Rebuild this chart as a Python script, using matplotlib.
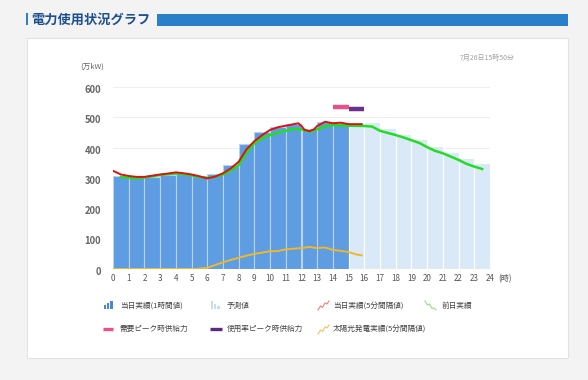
import matplotlib
matplotlib.use("Agg")
from matplotlib import pyplot as plt
from matplotlib.patches import Rectangle

plt.rcParams['font.family'] = ['Noto Sans CJK JP', 'DejaVu Sans']

# 1時間値 (当日実績 0-14時, 予測 15-23時)
hours_act = list(range(0, 15))
bars_act = [308, 303, 305, 310, 312, 307, 312, 343, 411, 453, 470, 478, 462, 486, 481]
hours_fc = list(range(15, 24))
bars_fc = [486, 486, 465, 447, 428, 407, 387, 367, 349]

# 当日実績 (5分間隔値)
red_t = [0, 0.5, 1, 1.5, 2, 2.5, 3, 3.5, 4, 4.5, 5, 5.5, 6, 6.5, 7, 7.5, 8, 8.5, 9,
         9.5, 10, 10.5, 11, 11.5, 11.8, 12, 12.2, 12.5, 12.8, 13, 13.5, 14, 14.5,
         15, 15.5, 15.83]
red_v = [324, 312, 307, 304, 304, 308, 312, 315, 319, 316, 312, 306, 299, 305, 316,
         332, 354, 395, 422, 442, 459, 468, 473, 478, 481, 472, 459, 455, 461, 472,
         486, 481, 483, 478, 478, 478]

# 前日実績
green_t = [0.5, 1, 1.5, 2, 2.5, 3, 3.5, 4, 4.5, 5, 5.5, 6, 6.5, 7, 7.5, 8, 8.5, 9,
           9.5, 10, 10.5, 11, 11.5, 12, 12.5, 13, 13.5, 14, 15, 16, 16.5, 17, 17.5,
           18, 18.5, 19, 19.5, 20, 20.5, 21, 21.5, 22, 22.5, 23, 23.5]
green_v = [304, 301, 299, 302, 306, 310, 313, 315, 313, 309, 304, 300, 305, 312, 325,
           343, 384, 415, 431, 442, 450, 456, 462, 461, 453, 461, 470, 475, 473, 472,
           470, 456, 449, 442, 434, 425, 416, 402, 390, 382, 371, 360, 347, 338, 330]

# 太陽光発電実績 (5分間隔値)
sun_t = [0, 5.3, 6, 6.5, 7, 7.5, 8, 8.5, 9, 9.5, 10, 10.5, 11, 11.5, 12, 12.5, 13,
         13.5, 14, 14.5, 15, 15.5, 15.83]
sun_v = [0, 0, 4, 13, 22, 30, 37, 44, 50, 54, 59, 59, 65, 67, 69, 73, 69, 71, 63,
         60, 56, 48, 45]

# ピーク時供給力
peak_demand = (14, 15, 535)
peak_rate = (15, 16, 527)

yticks = [0, 100, 200, 300, 400, 500, 600]
xticks = list(range(0, 25))

fig = plt.figure(figsize=(5.88, 3.8), dpi=100, facecolor='#f3f3f3')

# 背景・枠 (ピクセル座標)
bg = fig.add_axes([0, 0, 1, 1], zorder=-1)
bg.set_xlim(0, 588)
bg.set_ylim(380, 0)
bg.axis('off')
bg.add_patch(Rectangle((27, 38), 541, 320, facecolor='white', edgecolor='#e2e2e2', lw=0.8))
bg.add_patch(Rectangle((26, 13), 2, 12, facecolor='#2a7fc9', edgecolor='none'))
bg.add_patch(Rectangle((157, 14), 411, 11.5, facecolor='#2a7fc9', edgecolor='none'))
bg.text(31, 19.5, '電力使用状況グラフ', fontsize=9.5, fontweight='bold', color='#1d4f91',
        va='center', ha='left')
bg.text(515, 57.5, '7月26日15時50分', fontsize=5, color='#a0a0a0', va='center', ha='right')
bg.text(80, 67, '(万kW)', fontsize=5.5, color='#666666', va='center', ha='left')

# 凡例
lc = '#444444'
fs = 5.5
for i, h in enumerate([4, 6, 8]):
    bg.add_patch(Rectangle((103.5 + i * 3.3, 309 - h), 2.6, h, facecolor='#4a86d8', edgecolor='none'))
bg.text(120, 305.5, '当日実績(1時間値)', fontsize=fs, color=lc, va='center')
for i, h in enumerate([8, 5, 3]):
    bg.add_patch(Rectangle((210.5 + i * 3.3, 309 - h), 2.6, h, facecolor='#c8ddf3', edgecolor='none'))
bg.text(227, 305.5, '予測値', fontsize=fs, color=lc, va='center')
bg.plot([318, 320.5, 322.5, 325, 327, 329], [310, 306, 307.5, 303, 304, 301], color='#f08080', lw=0.8)
bg.text(333, 305.5, '当日実績(5分間隔値)', fontsize=fs, color=lc, va='center')
bg.plot([425, 427.5, 429.5, 432, 434, 436], [301, 305, 304, 308.5, 308, 310], color='#9ad88a', lw=0.8)
bg.text(442, 305.5, '前日実績', fontsize=fs, color=lc, va='center')
bg.plot([103, 113], [329, 329], color='#e8508a', lw=2.4, solid_capstyle='butt')
bg.text(119, 329, '需要ピーク時供給力', fontsize=fs, color=lc, va='center')
bg.plot([210, 222], [329, 329], color='#5b2a86', lw=2.4, solid_capstyle='butt')
bg.text(227, 329, '使用率ピーク時供給力', fontsize=fs, color=lc, va='center')
bg.plot([318, 320.5, 322.5, 325, 327, 329], [334, 330, 331.5, 327, 328, 325], color='#f5c060', lw=0.8)
bg.text(333, 329, '太陽光発電実績(5分間隔値)', fontsize=fs, color=lc, va='center')

# グラフ本体
ax = fig.add_axes([113 / 588, 111 / 380, 377 / 588, 181.8 / 380])
ax.set_facecolor('none')
ax.set_xlim(0, 24)
ax.set_ylim(0, 600)
for s in ax.spines.values():
    s.set_visible(False)
ax.set_yticks(yticks)
ax.set_xticks(xticks)
ax.tick_params(left=False, bottom=False, labelleft=False, labelbottom=False)
ax.grid(axis='y', color='#eeeeee', lw=0.8)
ax.set_axisbelow(True)

ax.bar(hours_act, bars_act, width=1, align='edge', color='#5e9de2',
       edgecolor='#b9d3f2', linewidth=0.8, zorder=2)
ax.bar(hours_fc, bars_fc, width=1, align='edge', color='#d9e9f8',
       edgecolor='white', linewidth=0.8, zorder=2)

ax.plot(sun_t, sun_v, color='#f0b828', lw=1.4, zorder=3)
ax.plot(green_t, green_v, color='#22dd22', lw=1.8, zorder=4)
ax.plot(red_t, red_v, color='#dd1111', lw=1.4, zorder=5)
ax.hlines(peak_demand[2], peak_demand[0], peak_demand[1], color='#e8508a', lw=3.2, zorder=5)
ax.hlines(peak_rate[2], peak_rate[0], peak_rate[1], color='#6a3090', lw=3.2, zorder=5)

for v in yticks:
    ax.annotate(str(v), xy=(0, v), xycoords=('axes fraction', 'data'),
                xytext=(-8.5, -2), textcoords='offset points', ha='right', va='center',
                fontsize=6.8, fontweight='bold', color='#666666')
for h in xticks:
    ax.annotate(str(h), xy=(h, 0), xycoords=('data', 'axes fraction'),
                xytext=(0, -7), textcoords='offset points', ha='center', va='center',
                fontsize=5.8, color='#555555')
ax.annotate('(時)', xy=(1, 0), xycoords='axes fraction', xytext=(11, -7),
            textcoords='offset points', ha='center', va='center', fontsize=5.8, color='#555555')

fig.savefig('out.png', dpi=100, facecolor=fig.get_facecolor())
